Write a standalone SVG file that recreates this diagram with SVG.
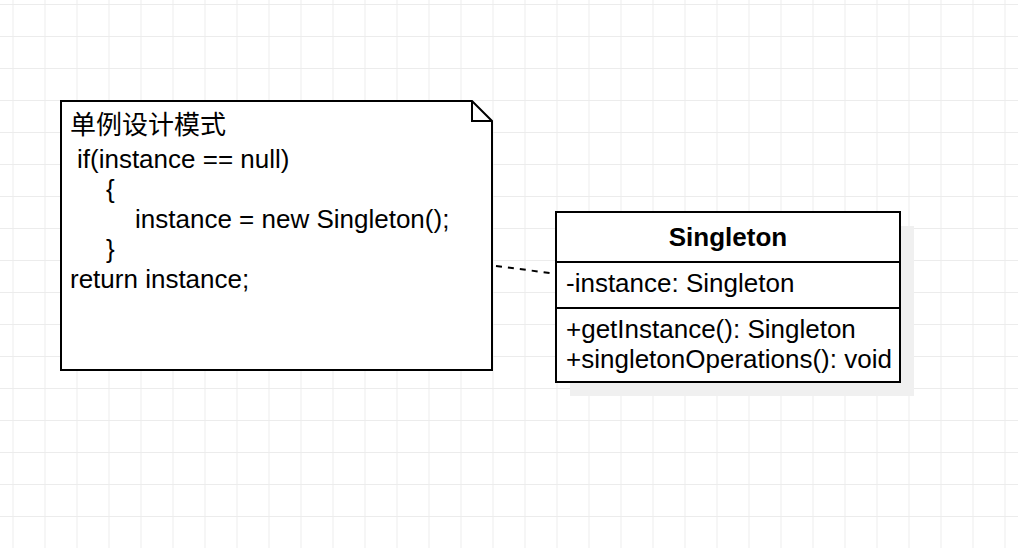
<svg xmlns="http://www.w3.org/2000/svg" width="1018" height="548" viewBox="0 0 1018 548">
  <defs>
    <pattern id="grid" x="12.5" y="4" width="32" height="32" patternUnits="userSpaceOnUse">
      <path d="M0 0.5 H32 M0.5 0 V32" fill="none" stroke="#ececec" stroke-width="1"/>
    </pattern>
  </defs>
  <style>
    .box { fill: #ffffff; stroke: #000000; stroke-width: 2; }
    .t { font-family: "Liberation Sans", Arial, "Noto Sans CJK SC", sans-serif; font-size: 26px; fill: #000000; }
    .b { font-weight: bold; }
    .conn { fill: none; stroke: #000000; stroke-width: 2; stroke-dasharray: 6 6; }
  </style>
  <rect width="1018" height="548" fill="#ffffff"/>
  <rect width="1018" height="548" fill="url(#grid)"/>

  <g id="connectors">
    <path class="conn" d="M496 266 L550 273"/>
  </g>

  <g id="note">
    <path class="box" d="M61 101 H472 L492 121 V370 H61 Z"/>
    <path d="M472 101 V121 H492" fill="none" stroke="#000000" stroke-width="2"/>
    <text class="t" x="70" y="134">单例设计模式</text>
    <text class="t" x="77" y="168">if(instance == null)</text>
    <text class="t" x="106" y="198">{</text>
    <text class="t" x="135" y="228">instance = new Singleton();</text>
    <text class="t" x="106" y="258">}</text>
    <text class="t" x="70" y="288">return instance;</text>
  </g>

  <g id="singleton">
    <rect x="570" y="226" width="344" height="170" fill="#f0f0f0"/>
    <rect class="box" x="556" y="212" width="344" height="170"/>
    <line x1="556" y1="262" x2="900" y2="262" stroke="#000000" stroke-width="2"/>
    <line x1="556" y1="308" x2="900" y2="308" stroke="#000000" stroke-width="2"/>
    <text class="t b" x="728" y="246" text-anchor="middle">Singleton</text>
    <text class="t" x="566" y="292">-instance: Singleton</text>
    <text class="t" x="566" y="338">+getInstance(): Singleton</text>
    <text class="t" x="566" y="368">+singletonOperations(): void</text>
  </g>
</svg>
